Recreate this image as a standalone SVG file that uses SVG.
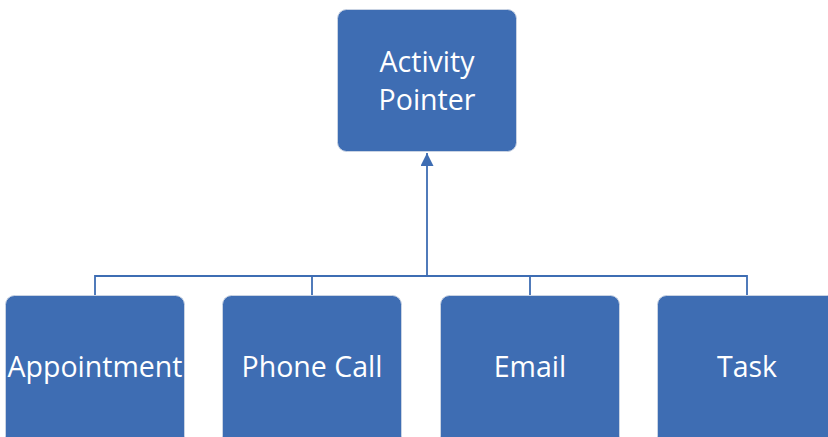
<svg xmlns="http://www.w3.org/2000/svg" width="828" height="437" viewBox="0 0 828 437">
<style>
.box{fill:#3e6db3;stroke:#c9d3e3;stroke-width:1}
.lbl{fill:#ffffff;font-family:"Open Sans","Noto Sans",sans-serif;font-size:28.5px;text-anchor:middle}
.con{fill:none;stroke:#3e6db3;stroke-width:1.8}
</style>
<defs>
<marker id="ah" viewBox="0 0 10 10" refX="10" refY="5" markerWidth="13" markerHeight="13" markerUnits="userSpaceOnUse" orient="auto">
<path d="M0,0 L10,5 L0,10 Z" fill="#3e6db3"/>
</marker>
</defs>
<g id="connectors">
<path class="con" d="M95,295 V276 H747 V295"/>
<path class="con" d="M312,276 V295"/>
<path class="con" d="M530,276 V295"/>
<path class="con" d="M427,276 V153" stroke-width="2.5" marker-end="url(#ah)"/>
</g>
<g id="activity-pointer">
<rect class="box" x="337.5" y="9.5" width="179" height="142" rx="9"/>
<text class="lbl" x="427" y="72">Activity</text>
<text class="lbl" x="427" y="110">Pointer</text>
</g>
<g id="appointment">
<rect class="box" x="5.5" y="295.5" width="179" height="150" rx="9"/>
<text class="lbl" x="95" y="377">Appointment</text>
</g>
<g id="phone-call">
<rect class="box" x="222.5" y="295.5" width="179" height="150" rx="9"/>
<text class="lbl" x="312" y="377">Phone Call</text>
</g>
<g id="email">
<rect class="box" x="440.5" y="295.5" width="179" height="150" rx="9"/>
<text class="lbl" x="530" y="377">Email</text>
</g>
<g id="task">
<rect class="box" x="657.5" y="295.5" width="179" height="150" rx="9"/>
<text class="lbl" x="747" y="377">Task</text>
</g>
</svg>
